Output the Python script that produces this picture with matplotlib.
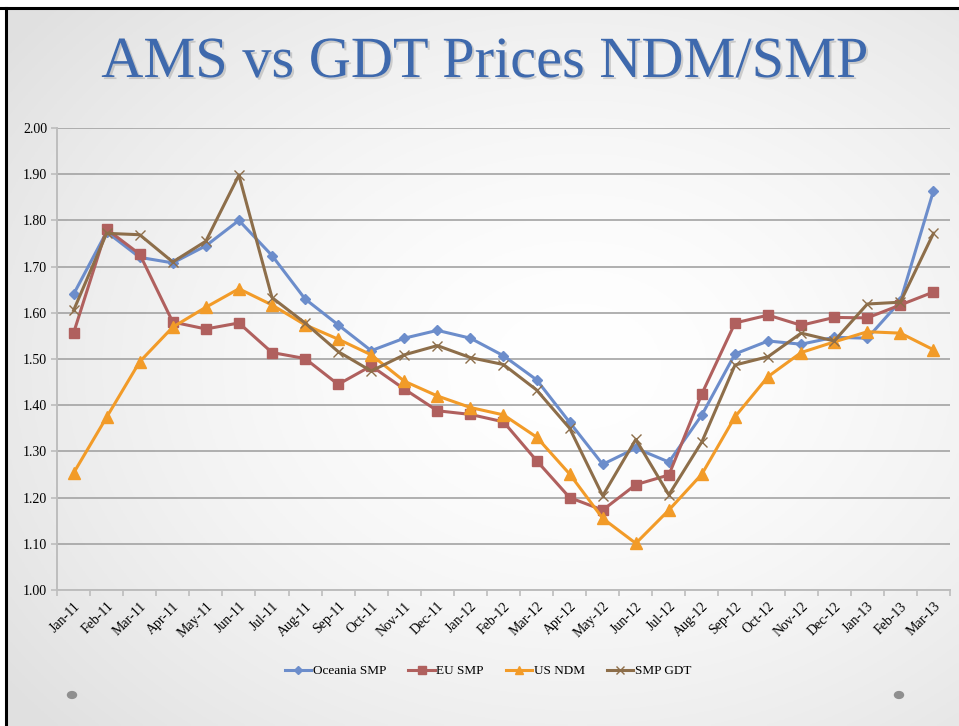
import numpy as np
import matplotlib
matplotlib.use("Agg")
import matplotlib.pyplot as plt
import matplotlib.patheffects as pe
from matplotlib.patches import Circle

# data
months = ["Jan-11", "Feb-11", "Mar-11", "Apr-11", "May-11", "Jun-11",
          "Jul-11", "Aug-11", "Sep-11", "Oct-11", "Nov-11", "Dec-11",
          "Jan-12", "Feb-12", "Mar-12", "Apr-12", "May-12", "Jun-12",
          "Jul-12", "Aug-12", "Sep-12", "Oct-12", "Nov-12", "Dec-12",
          "Jan-13", "Feb-13", "Mar-13"]

oceania_smp = [1.64, 1.775, 1.72, 1.708, 1.745, 1.80, 1.724, 1.63,
               1.574, 1.518, 1.545, 1.562, 1.545, 1.507, 1.455, 1.363,
               1.272, 1.307, 1.277, 1.379, 1.511, 1.539, 1.532, 1.547,
               1.545, 1.625, 1.864]
eu_smp = [1.556, 1.781, 1.727, 1.580, 1.565, 1.578, 1.514, 1.501,
          1.445, 1.485, 1.435, 1.388, 1.380, 1.364, 1.280, 1.200,
          1.173, 1.228, 1.249, 1.425, 1.578, 1.595, 1.573, 1.590,
          1.589, 1.617, 1.645]
us_ndm = [1.253, 1.374, 1.494, 1.569, 1.612, 1.652, 1.617, 1.574,
          1.543, 1.509, 1.452, 1.420, 1.395, 1.379, 1.331, 1.251,
          1.155, 1.101, 1.173, 1.251, 1.375, 1.462, 1.514, 1.537,
          1.559, 1.556, 1.520]
smp_gdt = [1.605, 1.772, 1.769, 1.710, 1.755, 1.898, 1.633, 1.578,
           1.516, 1.474, 1.509, 1.529, 1.503, 1.488, 1.433, 1.350,
           1.204, 1.326, 1.206, 1.321, 1.487, 1.505, 1.556, 1.539,
           1.619, 1.623, 1.772]

W, H = 959, 726
fig = plt.figure(figsize=(W / 100, H / 100), dpi=100, facecolor="white")

# slide background: soft grey vignette, white toward the middle
bg = fig.add_axes([6 / W, 0, 1 - 6 / W, 1 - 8 / H])
gx, gy = np.meshgrid(np.linspace(0, 1, 300), np.linspace(0, 1, 240))
r = np.sqrt(((gx - 0.6) / 0.75) ** 2 + ((gy - 0.5) / 0.75) ** 2)
shade = 1 - 0.12 * np.clip(r, 0, 1) ** 1.6
bg.imshow(np.dstack([shade] * 3), extent=[0, 1, 0, 1], aspect="auto",
          origin="lower")
bg.axis("off")

# black frame on top and left edge
fig.add_artist(plt.Line2D([0, 1], [1 - 8 / H] * 2, color="black", lw=2.2))
fig.add_artist(plt.Line2D([6 / W] * 2, [0, 1 - 8 / H], color="black", lw=2.2))

fig.text(485 / W, 1 - 63 / H, "AMS vs GDT Prices NDM/SMP",
         family="Liberation Serif", fontsize=42, color="#3E69AD",
         ha="center", va="center",
         path_effects=[pe.withSimplePatchShadow(offset=(1.5, -1.5),
                                                shadow_rgbFace="#888888",
                                                alpha=0.35)])

ax = fig.add_axes([57 / W, 1 - 590 / H, (950 - 57) / W, (590 - 128) / H])
ax.patch.set_alpha(0)

x = np.arange(len(months))
ax.plot(x, oceania_smp, color="#6C8DCB", lw=2.2, marker="D", ms=5.5,
        label="Oceania SMP", zorder=3)
ax.plot(x, eu_smp, color="#B0605E", lw=2.2, marker="s", ms=7.5,
        label="EU SMP", zorder=3)
ax.plot(x, us_ndm, color="#F29B28", lw=2.2, marker="^", ms=8,
        label="US NDM", zorder=3)
ax.plot(x, smp_gdt, color="#8D6E4A", lw=2.2, marker="x", ms=7, mew=1,
        label="SMP GDT", zorder=3)

ax.set_xlim(-0.5, len(months) - 0.5)
ax.set_ylim(1.0, 2.0)
yt = np.round(np.arange(1.0, 2.01, 0.1), 2)
ax.set_yticks(yt)
ax.set_yticklabels(["%.2f" % v for v in yt], family="Liberation Serif",
                   fontsize=10)
ax.yaxis.grid(True, color="#A3A3A3", lw=1.2)
ax.set_axisbelow(True)

ax.set_xticks(x)
ax.set_xticklabels(months, rotation=45, ha="right", va="top",
                   rotation_mode="anchor", family="Liberation Serif",
                   fontsize=10)
ax.tick_params(axis="x", length=0, pad=7)
ax.set_xticks(np.arange(-0.5, len(months)), minor=True)
ax.tick_params(axis="x", which="minor", length=4, color="#BDBDBD", width=1.2)
ax.tick_params(axis="y", length=4, color="#BDBDBD", width=1.2, pad=3)

for side in ["top", "right"]:
    ax.spines[side].set_visible(False)
for side in ["left", "bottom"]:
    ax.spines[side].set_color("#BDBDBD")
    ax.spines[side].set_linewidth(1.4)

fig.legend(loc="center", bbox_to_anchor=(488 / W, 1 - 671 / H), ncol=4,
           frameon=False, handlelength=2.0, handletextpad=0.1,
           columnspacing=1.7, markerscale=0.75,
           prop={"family": "Liberation Serif", "size": 9.5})

# slide bullet dots
for cx in [72, 899]:
    fig.add_artist(Circle((cx / W, 1 - 695 / H), 4.5 / W, color="#8F8F8F",
                          transform=fig.transFigure))

fig.savefig("out.png", dpi=100)
